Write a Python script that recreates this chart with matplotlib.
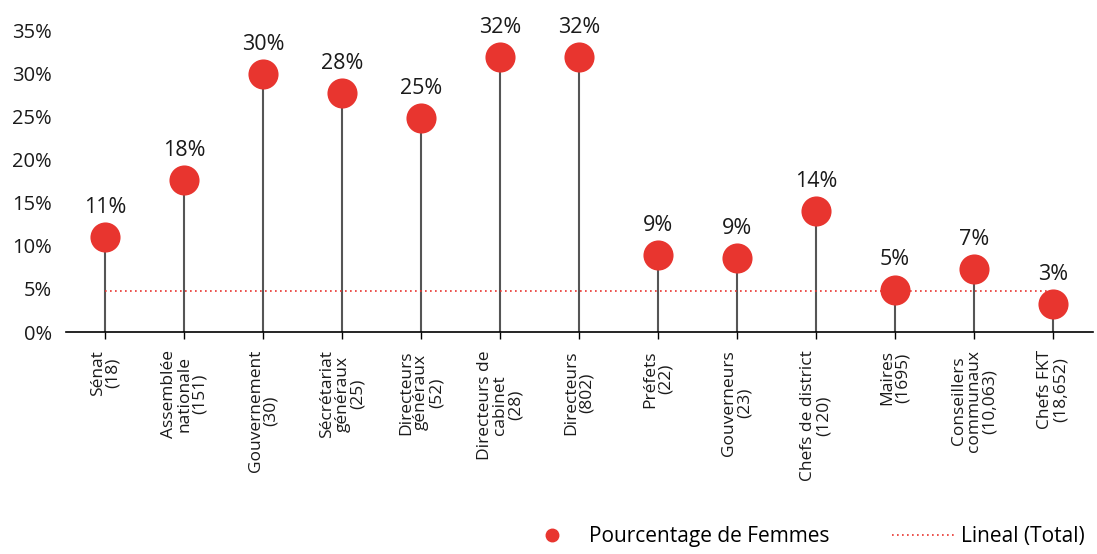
import numpy as np
import matplotlib.pyplot as plt
from matplotlib.lines import Line2D

plt.rcParams['font.family'] = ['Open Sans', 'DejaVu Sans']

categories = ['Sénat\n(18)', 'Assemblée\nnationale\n(151)', 'Gouvernement\n(30)',
              'Sécrétariat\ngénéraux\n(25)', 'Directeurs\ngénéraux\n(52)',
              'Directeurs de\ncabinet\n(28)', 'Directeurs\n(802)', 'Préfets\n(22)',
              'Gouverneurs\n(23)', 'Chefs de district\n(120)', 'Maires\n(1695)',
              'Conseillers\ncommunaux\n(10,063)', 'Chefs FKT\n(18,652)']
pct_women = [11.0, 17.6, 29.9, 27.7, 24.8, 31.9, 31.9, 8.9, 8.6, 14.0, 4.9, 7.3, 3.2]
total_pct = 4.75
yticks = [0, 5, 10, 15, 20, 25, 30, 35]

red = '#e8352f'
ink = '#1a1a1a'

fig = plt.figure(figsize=(10.97, 5.54), dpi=100)
ax = fig.add_axes([0.06, 0.4007, 0.936, 0.545])

x = np.arange(len(categories))

# stems under each point
ax.vlines(x, 0, pct_women, color='#555555', lw=1.5, zorder=1)
# overall level
ax.plot([x[0], x[-1]], [total_pct, total_pct], color=red, lw=1.2,
        linestyle=(0, (1, 2)), zorder=2)
ax.scatter(x, pct_women, s=470, color=red, zorder=3, linewidths=0)

for xi, v in zip(x, pct_women):
    ax.annotate(f'{v:.0f}%', (xi, v), xytext=(0, 17.5), textcoords='offset points',
                ha='center', va='baseline', fontsize=15.5, color=ink)

ax.set_xlim(-0.5, len(categories) - 0.5)
ax.set_ylim(0, 35)
ax.set_yticks(yticks)
ax.set_yticklabels([f'{t}%' for t in yticks], fontsize=14.5, color=ink)
ax.tick_params(axis='y', length=0, pad=10)
ax.set_xticks(x)
ax.set_xticklabels(categories, rotation=90, fontsize=12.5, linespacing=0.95,
                   ha='center', va='top', color=ink)
ax.tick_params(axis='x', length=5, width=1, pad=8)

for side in ['left', 'right', 'top']:
    ax.spines[side].set_visible(False)
ax.spines['bottom'].set_linewidth(1.2)

handles = [Line2D([], [], marker='o', color=red, linestyle='none', markersize=9),
           Line2D([], [], color=red, lw=1.2, linestyle=(0, (1, 2)))]
fig.legend(handles, ['Pourcentage de Femmes', 'Lineal (Total)'], ncol=2,
           loc='lower right', bbox_to_anchor=(1.006, -0.022), frameon=False,
           fontsize=15, handlelength=3, columnspacing=3, handletextpad=0.3)

fig.savefig('out.png', dpi=100)
